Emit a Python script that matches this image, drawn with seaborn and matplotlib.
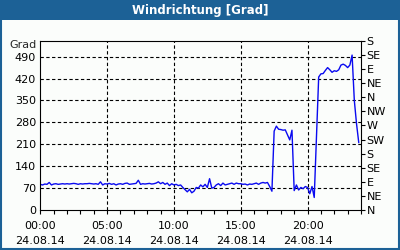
import numpy as np
import pandas as pd
import seaborn as sns
import matplotlib.pyplot as plt
import matplotlib.transforms as mtransforms
from matplotlib.patches import Rectangle

# wind direction in degrees, one value every 10 minutes (24.08.14)
hour_values = [
    [82, 80, 83, 82, 88, 80],        # 00
    [83, 84, 82, 83, 84, 83],        # 01
    [84, 83, 84, 85, 84, 82],        # 02
    [84, 83, 84, 84, 85, 84],        # 03
    [83, 84, 82, 90, 80, 84],        # 04
    [83, 85, 82, 84, 80, 83],        # 05
    [84, 82, 85, 86, 82, 83],        # 06
    [84, 85, 95, 82, 84, 83],        # 07
    [84, 85, 83, 84, 86, 90],        # 08
    [84, 88, 82, 86, 78, 84],        # 09
    [80, 82, 78, 80, 72, 65],        # 10
    [58, 66, 55, 60, 72, 70],        # 11
    [80, 74, 82, 72, 100, 70],       # 12
    [72, 80, 84, 78, 86, 80],        # 13
    [82, 84, 86, 82, 86, 84],        # 14
    [84, 82, 83, 80, 83, 82],        # 15
    [84, 86, 82, 86, 88, 86],        # 16
    [88, 75, 60, 252, 268, 258],     # 17
    [257, 255, 256, 240, 224, 255],  # 18
    [62, 80, 64, 72, 68, 75],        # 19
    [72, 52, 75, 40, 230, 425],      # 20
    [435, 436, 446, 455, 448, 440],  # 21
    [445, 443, 448, 463, 466, 462],  # 22
    [455, 463, 495, 350, 275, 215],  # 23
]
direction = [v for row in hour_values for v in row]
hours = [i / 6 for i in range(len(direction))]

y_ticks = [0, 70, 140, 210, 280, 350, 420, 490]
compass_ticks = list(range(0, 541, 45))
compass_labels = ['N', 'NE', 'E', 'SE', 'S', 'SW', 'W', 'NW',
                  'N', 'NE', 'E', 'SE', 'S']
x_ticks = [0, 5, 10, 15, 20]
x_labels = ['00:00\n24.08.14', '05:00\n24.08.14', '10:00\n24.08.14',
            '15:00\n24.08.14', '20:00\n24.08.14']

df = pd.DataFrame({'hour': hours, 'deg': direction})

sns.set_style('white')
plt.rcParams['font.family'] = ['DejaVu Sans']
plt.rcParams['font.size'] = 8

bar_blue = '#1c6196'
bg = '#fbfdfb'

fig = plt.figure(figsize=(4, 2.5), dpi=100, facecolor=bg)
ax = fig.add_axes([0.1008, 0.16, 0.8017, 0.676])
ax.set_facecolor(bg)

sns.lineplot(data=df, x='hour', y='deg', ax=ax, color='#0a0af0', linewidth=1.0)

ax.set_xlim(0, 24)
ax.set_ylim(0, 540)
ax.set_xlabel('')
ax.set_ylabel('')

# grid
for yv in y_ticks[1:]:
    ax.axhline(yv, color='black', lw=0.8, ls=(0, (3, 2.2)), zorder=0)
for xv in x_ticks[1:]:
    ax.axvline(xv, color='black', lw=0.8, ls=(0, (3, 2.2)), zorder=0)

for s in ax.spines.values():
    s.set_color('black')
    s.set_linewidth(0.8)

ax.set_yticks(y_ticks)
ax.set_yticklabels([str(v) for v in y_ticks])
ax.tick_params(axis='y', length=0, pad=3, labelsize=8, colors='black')

ax.set_xticks(x_ticks)
ax.set_xticklabels(x_labels, linespacing=1.55)
ax.set_xticks(range(0, 25), minor=True)
ax.tick_params(axis='x', which='both', direction='out', length=3, width=0.8,
               pad=5, labelsize=8, colors='black', bottom=True)

ax2 = ax.twinx()
ax2.set_ylim(0, 540)
ax2.set_yticks(compass_ticks)
ax2.set_yticklabels(compass_labels)
ax2.tick_params(axis='y', direction='out', length=3, width=0.8, pad=1,
                labelsize=8, colors='black')
for s in ax2.spines.values():
    s.set_visible(False)

trans = mtransforms.blended_transform_factory(ax.transAxes, ax.transData)
ax.text(-0.012, 528, 'Grad', transform=trans, ha='right', va='center',
        fontsize=8)

# title bar and frame
fig.patches.append(Rectangle((0, 0.92), 1, 0.08, transform=fig.transFigure,
                             facecolor=bar_blue, edgecolor='none', zorder=-1))
fig.patches.append(Rectangle((0.002, 0.004), 0.996, 0.994, transform=fig.transFigure,
                             facecolor='none', edgecolor=bar_blue, lw=1.5))
fig.text(0.5, 0.958, 'Windrichtung [Grad]', color='white', ha='center',
         va='center', fontsize=8.5, fontweight='bold')

fig.savefig('out.png', dpi=100, facecolor=bg)
